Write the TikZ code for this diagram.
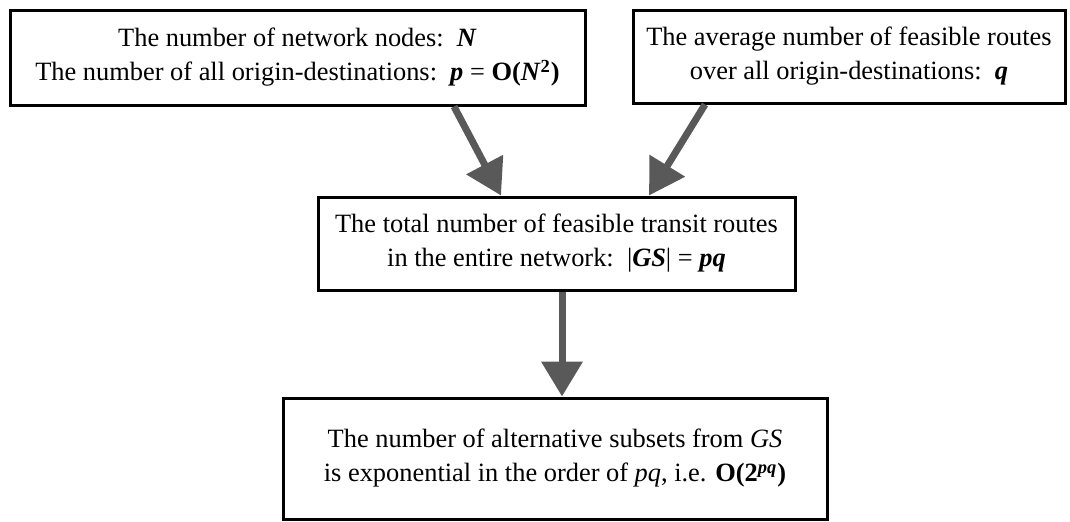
\documentclass[tikz,border=0pt]{standalone}
\usepackage{fontspec}
\setmainfont{Liberation Serif}
\usetikzlibrary{arrows.meta}
\definecolor{arrowgray}{HTML}{595959}
\newcommand{\bi}[1]{\textbf{\textit{#1}}}

\begin{document}
\begin{tikzpicture}[x=0.5pt, y=-0.5pt, main/.style = {draw, line width=1.5pt, align=center, inner sep=0pt, font=\fontsize{13.2}{17}\selectfont}, link/.style = {draw=arrowgray, line width=3.5pt, -{Triangle[width=20pt,length=17.5pt]}}]
			\useasboundingbox (0,0) rectangle (1070,521);
			\node[main, minimum width=287.5pt, minimum height=47.5pt] (nodes) at (297.5,57.5) {The number of network nodes:~~\bi{N}\\The number of all origin-destinations:~~\bi{p} = \textbf{O(\bi{N}\textsuperscript{2})}};
			\node[main, minimum width=216pt, minimum height=46.5pt] (routes) at (849,56.5) {The average number of feasible routes\\over all origin-destinations:~~\bi{q}};
			\node[main, minimum width=238.5pt, minimum height=46.5pt] (total) at (556.5,243.5) {The total number of feasible transit routes\\in the entire network:~~|\bi{GS}| = \bi{pq}};
			\node[main, minimum width=272pt, minimum height=60.5pt] (subsets) at (555,458.5) {The number of alternative subsets from \textit{GS}\\is exponential in the order of \textit{pq}, i.e. \textbf{O(2\textsuperscript{\textit{pq}})}};
			\draw[link] ([xshift=78.25pt]nodes.south) -- ([xshift=-27.75pt]total.north);
			\draw[link] ([xshift=-72pt]routes.south) -- ([xshift=46.25pt]total.north);
			\draw[link] ([xshift=2.75pt]total.south) -- ([xshift=3.5pt]subsets.north);
		\end{tikzpicture}
\end{document}
